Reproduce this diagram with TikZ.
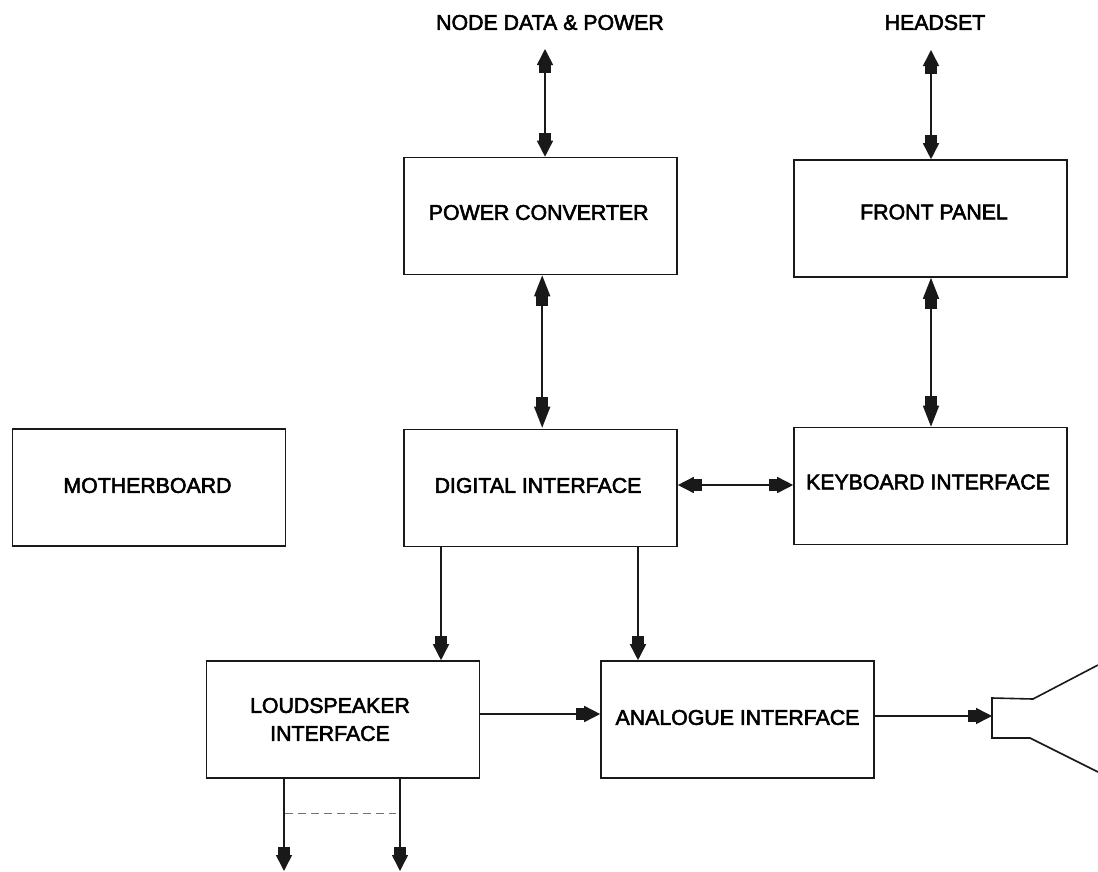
\documentclass[tikz,border=0pt]{standalone}
\usepackage{fontspec}
\setmainfont[FakeBold=2.6]{Liberation Sans}
\usetikzlibrary{arrows.meta}
\tikzset{
  x=1pt,y=-1pt,
  boxlabel/.style={font=\fontsize{21.3}{28}\selectfont,align=center,inner sep=0pt},
  box/.style={draw=black!90,line width=1.6pt,inner sep=0pt,minimum width=273pt,minimum height=117pt},
  toplabel/.style={font=\fontsize{21.3}{24}\selectfont,inner sep=0pt},
  wire/.style={draw=black!90,line width=1.6pt},
  fattip/.tip={Rectangle[length=10pt,width=12pt,sep=0pt] Triangle[length=21pt,width=16pt,sep=0pt]},
  fatsmall/.tip={Rectangle[length=8pt,width=12pt,sep=0pt] Triangle[length=16pt,width=16pt,sep=0pt]},
  one/.style={wire,-{fatsmall}},
  both/.style={wire,{fatsmall}-{fatsmall}},
  bothbig/.style={wire,{fattip}-{fattip}},
}
\begin{document}
\begin{tikzpicture}
\useasboundingbox (0,0) rectangle (1098,871);
\node[box,label={[boxlabel,xshift=-1.5pt,yshift=3.5pt]center:POWER CONVERTER}] (power) at (540.2,216) {};
\node[box,label={[boxlabel,xshift=3.5pt,yshift=6.5pt]center:FRONT PANEL}] (front) at (930.5,218.5) {};
\node[box,label={[boxlabel,xshift=-1.5pt,yshift=2pt]center:MOTHERBOARD}] (mother) at (149,487.5) {};
\node[box,label={[boxlabel,xshift=-2.5pt,yshift=2.5pt]center:DIGITAL INTERFACE}] (digital) at (540.5,488) {};
\node[box,label={[boxlabel,xshift=-2.5pt,yshift=4pt]center:KEYBOARD INTERFACE}] (keyboard) at (930.5,486) {};
\node[box,label={[boxlabel,xshift=-13pt]center:LOUDSPEAKER\\INTERFACE}] (loud) at (343,719.5) {};
\node[box,label={[boxlabel,yshift=2pt]center:ANALOGUE INTERFACE}] (analogue) at (737.5,719.5) {};
\node[toplabel] (nodedata) at (550,22.5) {NODE DATA \& POWER};
\node[toplabel] (headset) at (935,22.5) {HEADSET};

\coordinate (ndtop) at (545,49);
\coordinate (hstop) at (931,50);
\coordinate (out1) at (284,871);
\coordinate (out2) at (400,871);
\coordinate (crt) at (992,716);
\coordinate (dash1) at (285,813);
\coordinate (dash2) at (396,813);

\draw[both] (ndtop) -- (ndtop |- power.north);
\draw[both] (hstop) -- (hstop |- front.north);
\draw[bothbig] ([xshift=2pt]power.south) -- ([xshift=2pt,yshift=1pt]power.south |- digital.north);
\draw[bothbig] ([xshift=0.5pt]front.south) -- ([xshift=0.5pt]front.south |- keyboard.north);
\draw[both] (digital.east |- 0,485) -- (keyboard.west |- 0,485);
\draw[one] (441,0 |- digital.south) -- (441,0 |- loud.north);
\draw[one] (638,0 |- digital.south) -- (638,0 |- analogue.north);
\draw[one] (loud.east |- 0,714) -- (analogue.west |- 0,714);
\draw[one] (analogue.east |- crt) -- (crt);
\draw[one] (out1 |- loud.south) -- (out1);
\draw[one] (out2 |- loud.south) -- (out2);
\draw[black!55,line width=0.7pt,dash pattern=on 8pt off 5pt] (dash1) -- (dash2);

\draw[wire] (1098,665) -- (1033,699) -- (992,698) -- (992,738) -- (1030,738) -- (1098,772);
\end{tikzpicture}
\end{document}
